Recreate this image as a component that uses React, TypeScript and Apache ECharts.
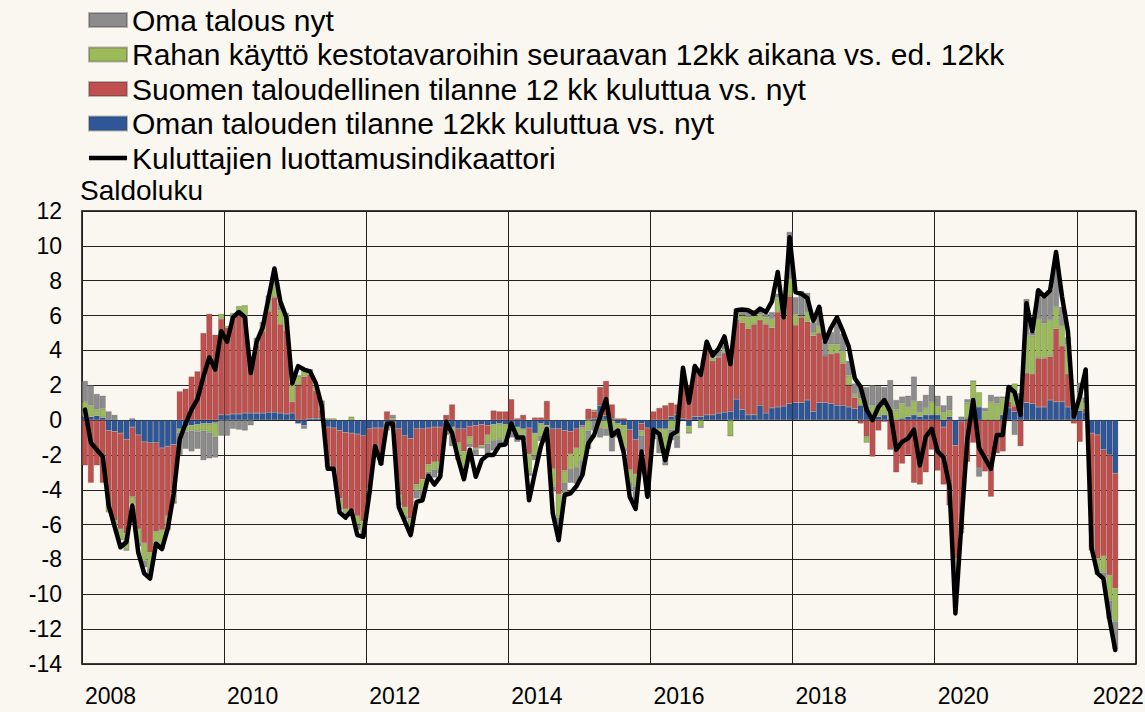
import React, { useEffect, useRef } from "react";
import * as echarts from "echarts";

// Monthly data, Jan 2008 – Jul 2022 (175 months); axis runs to Oct 2022
const startYear = 2008;
const axisMonths = 178;

const seriesNames = [
  "Oman talouden tilanne 12kk kuluttua vs. nyt",
  "Suomen taloudellinen tilanne 12 kk kuluttua vs. nyt",
  "Rahan käyttö kestotavaroihin seuraavan 12kk aikana vs. ed. 12kk",
  "Oma talous nyt",
  "Kuluttajien luottamusindikaattori",
];

const ownEcon12 = [
  0.2, 0.2, 0.25, 0.15, -0.6, -0.65, -0.75, -1.1, -0.4, -0.85, -1.25, -1.3,
  -1.3, -1.6, -1.5, -1.4, -0.5, -0.35, -0.3, -0.25, -0.2, -0.2, -0.15, 0.3,
  0.3, 0.35, 0.35, 0.4, 0.4, 0.4, 0.4, 0.45, 0.45, 0.4, 0.35, 0.4,
  -0.2, -0.3, 0.1, 0.1, 0.1, -0.4, -0.45, -0.6, -0.7, -0.75, -0.8, -0.9,
  -0.5, -0.45, -0.45, -0.1, -0.15, -0.5, -0.9, -1.05, -0.5, -0.5, -0.45, -0.4,
  -0.4, -0.35, -0.4, -0.5, -0.5, -0.35, -0.3, -0.25, -0.3, -0.25, -0.2, -0.25,
  -0.3, -0.4, -0.5, -0.45, -0.75, -0.2, -0.3, -0.5, -0.5, -0.6, -0.65, -0.5,
  -0.3, 0.05, 0.1, 0.85, 0.25, 0.1, -0.2, -0.3, -0.55, -1.1, -0.2, -0.45,
  -0.5, -0.5, -0.5, 0.2, 0.3, 0.1, -0.35, 0.2, 0.2, 0.3, 0.3, 0.4,
  0.45, 0.5, 1.2, 0.6, 0.3, 0.3, 0.85, 0.4, 0.7, 0.75, 0.8, 0.95,
  1.0, 1.0, 1.15, 0.5, 1.0, 1.0, 0.95, 0.85, 0.85, 0.75, 0.65, 0.85,
  0.75, 0.1, 0.2, 0.3, 0.1, 0.0, 0.1, 0.2, 0.3, 0.2, 0.3, 0.3,
  0.3, -0.4, 0.2, -1.45, -0.1, 0.1, 0.75, 0.75, 0.0, 0.0, 0.0, 0.3,
  0.7, 0.5, 0.45, 1.0, 0.95, 0.75, 0.75, 1.15, 1.05, 1.05, 0.75, 0.35,
  0.55, 0.45, -0.75, -0.85, -1.7, -2.0, -3.05,
];

const finland12 = [
  -2.6, -3.6, -2.6, -3.6, -4.3, -5.1, -5.5, -5.4, -4.0, -5.4, -5.8, -6.3,
  -5.1, -4.7, -4.0, -2.8, 1.65, 1.8, 2.5, 2.8, 5.0, 6.1, 4.9, 5.5,
  5.0, 5.5, 5.8, 5.5, 2.8, 3.9, 4.7, 5.8, 6.6, 5.1, 4.8, 0.65,
  2.0, 2.5, 2.5, 1.6, 0.5, -2.0, -2.3, -3.9, -4.4, -4.5, -4.7, -4.9,
  -3.4, -1.5, -2.0, 0.5, -0.3, -3.8, -4.1, -4.6, -3.2, -2.9, -2.1, -2.0,
  -2.0, 0.3, 0.9, -0.8, -1.3, -0.6, -1.3, -1.2, -0.55, 0.55, 0.5, 0.5,
  1.2, 0.1, 0.3, -1.5, 0.15, 0.15, 1.1, -2.3, -3.75, -2.3, -1.3, -1.1,
  -0.1, 0.6, 0.4, 1.05, 2.0, 0.8, 0.1, 0.1, -2.3, -2.0, -0.4, -3.1,
  0.5, 0.7, 0.85, 0.8, 0.6, 2.6, 2.0, 2.8, 2.6, 3.9, 3.1, 3.2,
  3.4, 3.2, 4.55, 5.0, 4.95, 5.2, 4.9, 5.1, 4.6, 5.45, 5.2, 6.15,
  4.45, 4.9, 4.5, 4.35, 4.0, 2.65, 2.85, 3.0, 2.4, 1.25, 0.65, -0.2,
  -0.95, -2.1, -0.6, -0.1, -1.7, -3.0, -2.5, -2.0, -3.6, -3.7, -3.0, -1.7,
  -2.9, -3.3, -4.9, -6.5, -6.2, -2.4, -1.3, -2.75, -2.95, -4.4, -1.9, -1.8,
  0.35, 0.3, -1.5, 1.7, 1.7, 2.8, 2.8, 2.5, 4.2, 3.2, 1.9, -0.2,
  -1.25, 0.2, -6.6, -7.1, -6.1, -6.9, -6.6,
];

const durables12 = [
  0.85, 0.65, 0.35, 0.5, -0.4, -0.3, -0.6, -0.9, -0.4, -0.8, -1.0, -0.9,
  -0.8, -0.9, -0.6, -0.4, -0.2, -0.3, -0.3, -0.4, -0.4, -0.5, -0.8, 0.3,
  0.1, 0.3, 0.4, 0.7, 0.2, 0.4, 0.5, 0.8, 0.9, 0.8, 0.9, 1.05,
  0.55, 0.4, 0.3, 0.3, 0.5, 0.1, 0.1, -0.6, -0.3, 0.2, -0.5, -0.7,
  -0.2, 0.0, -0.1, -0.2, 0.1, -0.4, -0.5, -0.5, -0.3, -0.6, -0.4, -0.45,
  -0.35, -0.2, -0.5, -0.95, -0.9, -0.4, -0.1, -0.15, -0.5, -0.9, -0.9, -0.9,
  -0.4, -0.55, -0.35, -1.05, -1.25, -0.7, -0.4, -1.0, -1.35, -0.7, -0.85, -1.1,
  -1.9, -0.6, 0.1, -0.45, -0.5, -0.7, -0.3, -1.3, -0.7, -0.7, -0.3, -0.4,
  -0.3, -0.5, -1.3, -0.55, -0.9, 0.1, -0.4, 0.05, -0.35, 0.1, 0.2, 0.05,
  0.2, -0.9, 0.4, 0.4, 0.65, 0.5, 0.3, 0.4, 0.5, 0.85, 0.2, 1.0,
  0.6, 0.1, 0.55, 0.15, 0.4, 0.0, 0.55, 0.5, 0.7, 0.55, 0.2, 0.4,
  -0.35, 0.75, 0.5, 0.55, 0.6, 0.6, 0.85, 0.55, 0.8, 0.25, 0.4, 0.75,
  0.5, 0.45, 0.35, -1.05, -0.2, 0.9, 1.5, 0.85, 0.5, 1.05, 0.95, 0.95,
  0.6, 1.3, 0.8, 2.2, 2.2, 2.25, 2.0, 2.1, 1.25, 1.15, 1.7, 0.1,
  1.1, 0.3, -0.1, -0.7, -0.95, -1.45, -1.9,
];

const ownEconNow = [
  1.2, 1.15, 0.9, 0.75, 0.5, 0.3, 0.0, -0.1, 0.1, -0.2, -0.4, -0.4,
  -0.1, -0.2, -0.2, -0.2, -1.3, -1.0, -1.2, -1.0, -1.7, -1.5, -1.2, -0.9,
  -0.9, -0.5, -0.55, -0.6, -0.3, 0.0, 0.0, 0.1, 0.3, 0.4, 0.1, 0.0,
  0.0, -0.2, 0.0, 0.0, 0.0, -0.3, -0.2, 0.0, 0.0, -0.1, -0.3, -0.2,
  -0.1, 0.0, 0.0, -0.3, 0.2, -0.2, -0.2, -0.3, -0.5, -0.5, -0.3, -0.45,
  -0.3, -0.3, -0.6, 0.0, -0.5, -0.2, -0.3, 0.0, -0.6, -0.6, -0.35, -0.3,
  -0.3, -0.3, -0.3, -0.2, -0.3, -0.3, -0.6, -0.3, -0.5, -0.6, -0.8, -0.95,
  -0.85, -1.05, -0.6, -0.55, -0.4, -1.1, -0.5, -0.2, -0.5, -0.8, -0.9, -0.4,
  -0.3, -0.9, -0.8, -0.6, -0.7, 0.0, 0.0, 0.0, -0.1, 0.0, 0.1, 0.4,
  0.3, 0.0, 0.2, 0.4, 0.3, 0.3, 0.3, 0.2, 0.4, 0.2, 0.0, 2.7,
  1.0, 1.4, 1.1, 0.6, 1.1, 0.85, 0.7, 1.4, 1.0, 0.85, 0.6, 0.7,
  1.15, 1.15, 1.25, 1.05, 1.6, 0.55, 0.4, 0.65, 1.4, 0.65, 0.75, 0.95,
  0.6, 0.4, 0.85, -0.3, 0.2, 0.2, 0.0, -0.5, 0.2, 0.4, 0.4, 0.1,
  0.25, -0.85, 0.3, 2.05, 0.2, 1.65, 1.5, 1.7, 2.4, 1.1, 0.4, 0.0,
  0.5, 0.35, 0.0, -0.2, -0.3, -1.05, -1.6,
];

const confidence = [
  0.6, -1.3, -1.7, -2.1, -4.9, -6.1, -7.3, -7.0, -4.9, -7.6, -8.8, -9.1,
  -7.1, -7.4, -6.2, -4.2, -1.1, -0.2, 0.6, 1.2, 2.5, 3.6, 2.9, 5.1,
  4.5, 5.9, 6.2, 5.9, 2.7, 4.5, 5.3, 7.0, 8.7, 6.8, 5.9, 2.1,
  3.1, 2.9, 2.8, 2.1, 0.8, -2.8, -2.8, -5.3, -5.6, -5.2, -6.6, -6.7,
  -4.3, -1.5, -2.5, -0.2, -0.2, -5.0, -5.8, -6.6, -4.7, -4.6, -3.2, -3.7,
  -3.25, -0.1, -0.75, -2.2, -3.4, -1.7, -3.25, -2.3, -2.0, -2.0, -1.45, -1.4,
  -0.2, -1.0, -1.0, -4.6, -3.0, -1.5, -0.5, -5.35, -6.9, -4.3, -4.2, -3.8,
  -3.15, -1.35, -0.85, 0.2, 1.2, -0.9, -0.6, -1.9, -4.4, -5.1, -1.8, -4.4,
  -0.55, -0.8, -2.3, -0.85, -0.65, 3.0, 1.0, 3.1, 2.6, 4.5, 3.7, 4.1,
  4.8, 3.2, 6.3, 6.35, 6.3, 6.1, 6.4, 6.2, 6.8, 8.5, 5.9, 10.5,
  7.35, 7.25, 7.0, 5.7, 6.5, 4.5, 5.3, 5.9, 5.1, 4.2, 2.4, 1.9,
  0.6, 0.0, 0.75, 1.15, 0.5, -1.7, -1.25, -1.05, -0.55, -2.6, -0.95, -0.5,
  -1.8, -2.15, -3.8, -11.1, -6.0, -1.15, 1.15, -1.6, -2.2, -2.8, -0.85, -0.85,
  1.9, 1.6, 0.3, 6.7, 5.1, 7.45, 7.1, 7.45, 9.65, 7.1, 5.1, 0.2,
  1.35, 2.9, -7.35, -8.8, -9.1, -11.4, -13.2,
];

const yTicks = { min: -14, max: 12, interval: 2 };
const labelYears = [2008, 2010, 2012, 2014, 2016, 2018, 2020, 2022];

const colors = {
  blue: "#2F5696",
  red: "#C0504D",
  green: "#9BBB59",
  gray: "#8C8C8C",
  line: "#000000",
  bg: "#FAF6F0",
};

const categories: string[] = [];
for (let i = 0; i < axisMonths; i++) {
  const y = startYear + Math.floor(i / 12);
  const m = (i % 12) + 1;
  categories.push(`${y}-${m < 10 ? "0" + m : m}`);
}

export default function App() {
  const ref = useRef<HTMLDivElement>(null);
  useEffect(() => {
    document.body.style.margin = "0";
    document.body.style.background = colors.bg;
    if (!ref.current) return;
    const chart = echarts.init(ref.current, undefined, { renderer: "svg" });
    const font = "Liberation Sans";
    const barStyle = (c: string) => ({
      color: c,
      borderColor: "rgba(60,60,60,0.35)",
      borderWidth: 0.6,
    });
    const isLabelIdx = (i: number) =>
      i % 12 === 0 && labelYears.indexOf(startYear + i / 12) >= 0;
    const lastYear = labelYears[labelYears.length - 1];
    chart.setOption({
      animation: false,
      backgroundColor: colors.bg,
      textStyle: { fontFamily: font },
      legend: {
        orient: "vertical",
        left: 88,
        top: 5,
        itemWidth: 38,
        itemHeight: 14,
        itemGap: 4.5,
        padding: 0,
        selectedMode: false,
        textStyle: { fontSize: 30, color: "#000", fontFamily: font },
        data: [
          { name: seriesNames[3], icon: "rect" },
          { name: seriesNames[2], icon: "rect" },
          { name: seriesNames[1], icon: "rect" },
          { name: seriesNames[0], icon: "rect" },
          {
            name: seriesNames[4],
            icon: "path://M0,0L38,0L38,4.5L0,4.5Z",
            itemStyle: { color: "#000" },
          },
        ],
      },
      graphic: [
        {
          type: "text",
          left: 80,
          top: 176,
          style: { text: "Saldoluku", font: `28px '${font}'`, fill: "#000" },
        },
      ],
      grid: {
        left: 82,
        right: 9,
        top: 211,
        bottom: 48,
        show: true,
        borderColor: "#000",
        borderWidth: 1.5,
        backgroundColor: "transparent",
        containLabel: false,
        outerBoundsMode: "none",
      },
      xAxis: {
        type: "category",
        data: categories,
        boundaryGap: true,
        axisLine: { show: false },
        axisTick: { show: false },
        splitLine: {
          show: true,
          interval: (i: number) => i % 24 === 0,
          lineStyle: { color: "#222", width: 1 },
        },
        axisLabel: {
          interval: (i: number) => isLabelIdx(i),
          formatter: (v: string) => {
            const y = v.slice(0, 4);
            return Number(y) === lastYear ? `{last|${y}}` : y;
          },
          rich: { last: { padding: [0, 0, 0, 13], fontSize: 23, fontFamily: font, color: "#000" } },
          align: "left",
          margin: 20,
          fontSize: 23,
          color: "#000",
          fontFamily: font,
        },
      },
      yAxis: {
        type: "value",
        min: yTicks.min,
        max: yTicks.max,
        interval: yTicks.interval,
        axisLine: { show: false },
        axisTick: { show: false },
        splitLine: { lineStyle: { color: "#222", width: 1 } },
        axisLabel: { fontSize: 23, color: "#000", margin: 20, fontFamily: font },
      },
      series: [
        { name: seriesNames[0], type: "bar", stack: "t", barCategoryGap: "0%", itemStyle: barStyle(colors.blue), data: ownEcon12 },
        { name: seriesNames[1], type: "bar", stack: "t", barCategoryGap: "0%", itemStyle: barStyle(colors.red), data: finland12 },
        { name: seriesNames[2], type: "bar", stack: "t", barCategoryGap: "0%", itemStyle: barStyle(colors.green), data: durables12 },
        { name: seriesNames[3], type: "bar", stack: "t", barCategoryGap: "0%", itemStyle: barStyle(colors.gray), data: ownEconNow },
        {
          name: seriesNames[4],
          type: "line",
          data: confidence,
          symbol: "none",
          z: 10,
          itemStyle: { color: colors.line },
          lineStyle: { color: colors.line, width: 4.5, join: "round", cap: "round" },
        },
      ],
    });
    return () => chart.dispose();
  }, []);
  return <div ref={ref} style={{ width: 1145, height: 712 }} />;
}
